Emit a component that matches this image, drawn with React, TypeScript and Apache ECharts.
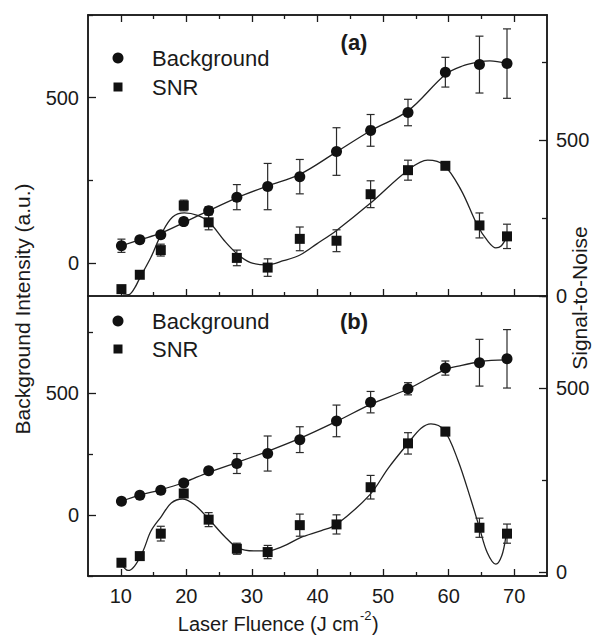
import React, { useEffect, useRef } from 'react';
import * as echarts from 'echarts';

// ---- data ----
const fluence = [10.1, 12.9, 16.1, 19.6, 23.4, 27.7, 32.4, 37.3, 42.9, 48.1, 53.8, 59.5, 64.7, 68.9];

// panel (a)
const bgA = [52, 70, 85, 125, 158, 199, 231, 261, 337, 401, 455, 577, 600, 603];
const bgAErr = [20, 10, 10, 10, 12, 38, 70, 52, 72, 48, 40, 45, 86, 105];
const snrA = [22, 68, 147, 290, 236, 122, 91, 183, 177, 326, 403, 417, 226, 191];
const snrAErr = [8, 10, 19, 17, 24, 25, 28, 38, 35, 43, 32, 8, 40, 39];
const fitBgA: [number, number][] = [
  [10.1, 52], [12.9, 70], [16.1, 90], [19.6, 122], [23.4, 158], [27.7, 197], [32.4, 233],
  [37.3, 268], [42.9, 336], [48.1, 400], [53.8, 460], [59.5, 570], [62, 595], [64.7, 608],
  [66.3, 611], [68.9, 603],
];
const fitSnrA: [number, number][] = [
  [10.3, 3], [11.2, 4], [12.1, 25], [12.9, 58], [14.6, 124], [16.2, 199], [17.9, 253],
  [19.7, 266], [21.7, 258], [23.5, 236], [25.8, 177], [27.8, 134], [29.8, 107], [32.3, 100],
  [34.8, 113], [37.4, 132], [39.9, 167], [42.9, 210], [48.0, 296], [53.8, 403], [56.8, 435],
  [59.3, 419], [61.9, 339], [64.4, 226], [66.0, 175], [67.2, 154], [68.0, 160], [68.9, 191],
];

// panel (b)
const bgB = [57, 82, 102, 132, 182, 212, 253, 310, 387, 464, 519, 604, 626, 642];
const bgBErr = [12, 8, 8, 8, 10, 41, 72, 53, 65, 44, 25, 29, 96, 120];
const snrB = [26, 44, 105, 214, 143, 64, 55, 128, 130, 231, 350, 382, 121, 105];
const snrBErr = [10, 8, 20, 10, 19, 15, 18, 30, 26, 32, 29, 11, 26, 26];
const fitBgB: [number, number][] = [
  [10.1, 57], [12.9, 82], [16.1, 104], [19.6, 134], [23.4, 176], [27.7, 216], [32.4, 262],
  [37.3, 315], [42.9, 385], [48.1, 455], [53.8, 518], [59.5, 598], [62, 615], [64.7, 630],
  [66.5, 636], [68.9, 638],
];
const fitSnrB: [number, number][] = [
  [10.1, 22], [11.1, 5], [12.1, 17], [13.4, 58], [14.6, 112], [16.2, 152], [17.7, 188],
  [19.4, 199], [21.2, 184], [23.5, 143], [25.8, 98], [27.8, 67], [30.3, 58], [32.3, 58],
  [34.8, 71], [37.4, 94], [40.6, 113], [42.9, 130], [48.0, 211], [50.8, 283], [53.8, 350],
  [55.8, 391], [57.3, 403], [59.3, 386], [61.4, 305], [63.4, 197], [64.7, 121], [65.9, 53],
  [67.2, 22], [68.1, 45], [68.7, 94],
];

// axes
const xRange = [5, 75];
const xMajor = [10, 20, 30, 40, 50, 60, 70];
const xMinor = [15, 25, 35, 45, 55, 65];
const yMajor = [0, 500];
const yMinor = [-250, 250, 750];
const rangeALeft = [-100, 750];
const rangeARight = [0, 900];
const rangeBLeft = [-250, 900];
const rangeBRight = [-10, 750];

const FONT = 'Liberation Sans, Arial, Helvetica, sans-serif';
const INK = '#1a1a1a';

function xAxisDef(grid: number, pos: string, ticks: number[], len: number, labels: boolean) {
  return {
    type: 'value', gridIndex: grid, position: pos, min: xRange[0], max: xRange[1],
    axisLine: { show: true, onZero: false, lineStyle: { color: INK, width: 1.5 } },
    axisTick: { show: true, inside: true, length: len, customValues: ticks, lineStyle: { color: INK, width: 1.3 } },
    axisLabel: labels
      ? { show: true, customValues: xMajor, margin: 10, fontSize: 20, fontFamily: FONT, color: INK }
      : { show: false },
    splitLine: { show: false },
  };
}

function yAxisDef(grid: number, pos: string, range: number[], ticks: number[], len: number, labels: boolean) {
  return {
    type: 'value', gridIndex: grid, position: pos, min: range[0], max: range[1],
    axisLine: { show: true, onZero: false, lineStyle: { color: INK, width: 1.5 } },
    axisTick: { show: true, inside: true, length: len, customValues: ticks, lineStyle: { color: INK, width: 1.3 } },
    axisLabel: labels
      ? { show: true, customValues: yMajor, margin: 9, fontSize: 20, fontFamily: FONT, color: INK }
      : { show: false },
    splitLine: { show: false },
  };
}

function errorSeries(xi: number, yi: number, vals: number[], errs: number[]) {
  return {
    type: 'custom', xAxisIndex: xi, yAxisIndex: yi, silent: true, z: 3,
    data: fluence.map((x, i) => [x, vals[i] - errs[i], vals[i] + errs[i]]),
    encode: { x: 0, y: [1, 2] },
    renderItem: (params: any, api: any) => {
      const lo = api.coord([api.value(0), api.value(1)]);
      const hi = api.coord([api.value(0), api.value(2)]);
      const w = 4;
      const style = { stroke: '#2a2a2a', lineWidth: 1.2, fill: 'none' };
      return {
        type: 'group',
        children: [
          { type: 'line', shape: { x1: lo[0], y1: lo[1], x2: hi[0], y2: hi[1] }, style },
          { type: 'line', shape: { x1: lo[0] - w, y1: lo[1], x2: lo[0] + w, y2: lo[1] }, style },
          { type: 'line', shape: { x1: hi[0] - w, y1: hi[1], x2: hi[0] + w, y2: hi[1] }, style },
        ],
      };
    },
  };
}

function fitSeries(name: string, xi: number, yi: number, data: [number, number][]) {
  return {
    name, type: 'line', xAxisIndex: xi, yAxisIndex: yi, data, smooth: 0.35, showSymbol: false,
    symbol: 'none', lineStyle: { color: '#222', width: 1.3 }, z: 2, silent: true,
  };
}

function pointSeries(name: string, xi: number, yi: number, vals: number[], symbol: string, size: number) {
  return {
    name, type: 'scatter', xAxisIndex: xi, yAxisIndex: yi, symbol, symbolSize: size,
    data: fluence.map((x, i) => [x, vals[i]]), itemStyle: { color: '#111', opacity: 1 }, z: 4,
  };
}

function legendGraphics(cy1: number, cy2: number) {
  return [
    { type: 'circle', shape: { cx: 118, cy: cy1, r: 5.5 }, style: { fill: '#111' } },
    { type: 'text', x: 152, y: cy1, style: { text: 'Background', font: `22px ${FONT}`, fill: INK, verticalAlign: 'middle', align: 'left' } },
    { type: 'rect', shape: { x: 113.5, y: cy2 - 4.5, width: 9, height: 9 }, style: { fill: '#111' } },
    { type: 'text', x: 152, y: cy2, style: { text: 'SNR', font: `22px ${FONT}`, fill: INK, verticalAlign: 'middle', align: 'left' } },
  ];
}

export default function App() {
  const ref = useRef<HTMLDivElement>(null);
  useEffect(() => {
    if (!ref.current) return;
    const chart = echarts.init(ref.current, undefined, { renderer: 'svg' });
    const option: any = {
      animation: false,
      backgroundColor: '#ffffff',
      grid: [
        { left: 88, top: 15, width: 459, height: 281 },
        { left: 88, top: 296, width: 459, height: 280 },
      ],
      xAxis: [
        xAxisDef(0, 'bottom', xMajor, 7, false),
        xAxisDef(0, 'bottom', xMinor, 4, false),
        xAxisDef(0, 'top', xMajor, 7, false),
        xAxisDef(0, 'top', xMinor, 4, false),
        xAxisDef(1, 'bottom', xMajor, 7, true),
        xAxisDef(1, 'bottom', xMinor, 4, false),
      ],
      yAxis: [
        yAxisDef(0, 'left', rangeALeft, yMajor, 8, true),
        yAxisDef(0, 'left', rangeALeft, yMinor, 5, false),
        yAxisDef(0, 'right', rangeARight, yMajor, 8, true),
        yAxisDef(0, 'right', rangeARight, yMinor, 5, false),
        yAxisDef(1, 'left', rangeBLeft, yMajor, 8, true),
        yAxisDef(1, 'left', rangeBLeft, yMinor, 5, false),
        yAxisDef(1, 'right', rangeBRight, yMajor, 8, true),
        yAxisDef(1, 'right', rangeBRight, yMinor, 5, false),
      ],
      series: [
        fitSeries('Background fit (a)', 0, 0, fitBgA),
        fitSeries('SNR fit (a)', 0, 2, fitSnrA),
        errorSeries(0, 0, bgA, bgAErr),
        errorSeries(0, 2, snrA, snrAErr),
        pointSeries('Background', 0, 0, bgA, 'circle', 11),
        pointSeries('SNR', 0, 2, snrA, 'rect', 10),
        fitSeries('Background fit (b)', 4, 4, fitBgB),
        fitSeries('SNR fit (b)', 4, 6, fitSnrB),
        errorSeries(4, 4, bgB, bgBErr),
        errorSeries(4, 6, snrB, snrBErr),
        pointSeries('Background', 4, 4, bgB, 'circle', 11),
        pointSeries('SNR', 4, 6, snrB, 'rect', 10),
      ],
      graphic: [
        ...legendGraphics(58, 87),
        ...legendGraphics(321, 349),
        { type: 'text', x: 354, y: 42, style: { text: '(a)', font: `bold 22px ${FONT}`, fill: INK, align: 'center', verticalAlign: 'middle' } },
        { type: 'text', x: 354, y: 321, style: { text: '(b)', font: `bold 22px ${FONT}`, fill: INK, align: 'center', verticalAlign: 'middle' } },
        {
          type: 'text', x: 22, y: 309, rotation: Math.PI / 2,
          style: { text: 'Background Intensity (a.u.)', font: `21px ${FONT}`, fill: INK, align: 'center', verticalAlign: 'middle' },
        },
        {
          type: 'text', x: 579, y: 298, rotation: Math.PI / 2,
          style: { text: 'Signal-to-Noise', font: `21px ${FONT}`, fill: INK, align: 'center', verticalAlign: 'middle' },
        },
        {
          type: 'text', x: 359, y: 624,
          style: { text: 'Laser Fluence (J cm', font: `20px ${FONT}`, fill: INK, align: 'right', verticalAlign: 'middle' },
        },
        {
          type: 'text', x: 360, y: 615,
          style: { text: '-2', font: `13px ${FONT}`, fill: INK, align: 'left', verticalAlign: 'middle' },
        },
        {
          type: 'text', x: 372, y: 624,
          style: { text: ')', font: `20px ${FONT}`, fill: INK, align: 'left', verticalAlign: 'middle' },
        },
      ],
    };
    chart.setOption(option);
    return () => chart.dispose();
  }, []);
  return (
    <div
      ref={ref}
      style={{ position: 'fixed', left: 0, top: 0, width: 595, height: 637, background: '#fff' }}
    />
  );
}
